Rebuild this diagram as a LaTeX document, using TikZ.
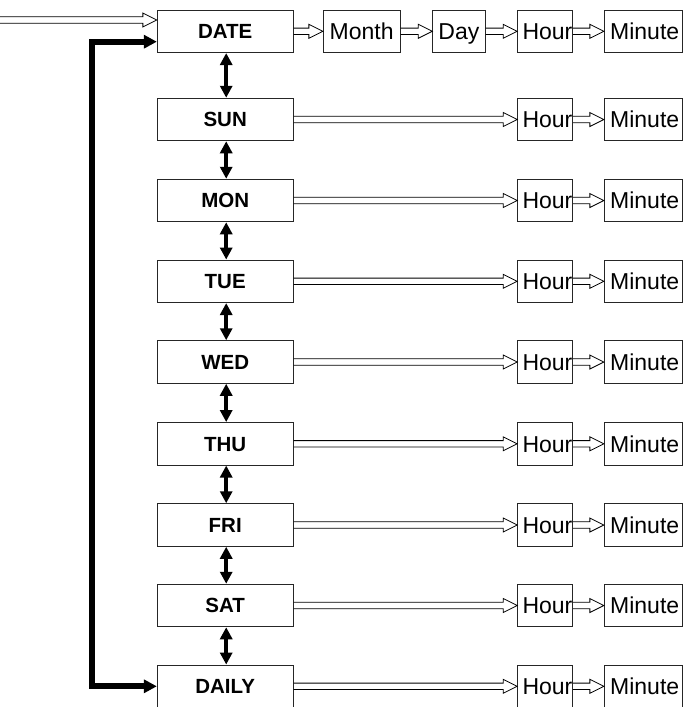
\documentclass[tikz,border=0pt]{standalone}
\usepackage{fontspec}
\setmainfont{Liberation Sans}
\usetikzlibrary{arrows.meta,calc}
\begin{document}
\begin{tikzpicture}[x=1pt,y=-1pt,
  box/.style={draw=black!85,line width=1pt,inner sep=0pt,minimum height=42.5pt},
  daybox/.style={box,minimum width=135.7pt,text height=14.7pt,text depth=0pt,font=\bfseries\fontsize{20.5}{24}\selectfont},
  smallbox/.style={box,text height=16.5pt,text depth=0pt,font=\fontsize{23}{27}\selectfont},
  blockarrow/.style={draw=black,line width=0.8pt,line join=miter,
    to path={let \p1=(\tikztostart), \p2=(\tikztotarget) in
      (\x1,{\y1+3.2pt}) -- ({\x2-14pt},{\y1+3.2pt}) -- ({\x2-14pt},{\y1+7pt}) -- (\x2,\y1)
      -- ({\x2-14pt},{\y1-7pt}) -- ({\x2-14pt},{\y1-3.2pt}) -- (\x1,{\y1-3.2pt})}},
  vlink/.style={line width=4pt,{Triangle[length=12pt,width=12pt]}-{Triangle[length=12pt,width=12pt]}},
  looplink/.style={line width=5.7pt,line join=miter,{Triangle[length=13pt,width=13pt]}-{Triangle[length=13pt,width=13pt]}}
]
\useasboundingbox (0,0) rectangle (683,707);

% top row
\node[daybox] (DATE) at (225.2,31.3) {DATE};
\node[smallbox,minimum width=76.7pt] (Month) at (361.7,31.3) {Month};
\node[smallbox,minimum width=52.3pt] (Day) at (458.9,31.3) {Day};
\node[smallbox,minimum width=55pt] (hDATE) at (545.2,31.3) {\hspace*{4.5pt}Hour};
\node[smallbox,minimum width=77.7pt] (mDATE) at (643.2,31.3) {\hspace*{3pt}Minute};
\draw[blockarrow] (DATE.east) to (Month.west);
\draw[blockarrow] (Month.east) to (Day.west);
\draw[blockarrow] (Day.east) to (hDATE.west);
\draw[blockarrow] (hDATE.east) to (mDATE.west);

% input
\coordinate (in) at (0,20);
\coordinate (inend) at ([yshift=11.3pt]DATE.west);
\draw[blockarrow] (in) to (inend);

% day rows
\foreach \d/\y in {SUN/119.5, MON/200.5, TUE/281.3, WED/362, THU/443.8, FRI/525, SAT/605.5, DAILY/686.3} {
  \node[daybox] (\d) at (225.2,\y) {\d};
  \node[smallbox,minimum width=55pt] (h\d) at (545.2,\y) {\hspace*{4.5pt}Hour};
  \node[smallbox,minimum width=77.7pt] (m\d) at (643.2,\y) {\hspace*{3pt}Minute};
  \draw[blockarrow] (\d.east) to (h\d.west);
  \draw[blockarrow] (h\d.east) to (m\d.west);
}

% vertical links
\foreach \a/\b in {DATE/SUN, SUN/MON, MON/TUE, TUE/WED, WED/THU, THU/FRI, FRI/SAT, SAT/DAILY}
  \draw[vlink] ([xshift=1pt]\a.south) -- ([xshift=1pt]\b.north);

% loop back
\coordinate (bend) at (92,300);
\draw[looplink] ([yshift=-10.4pt]DATE.west) -| (bend) |- (DAILY.west);
\end{tikzpicture}
\end{document}
